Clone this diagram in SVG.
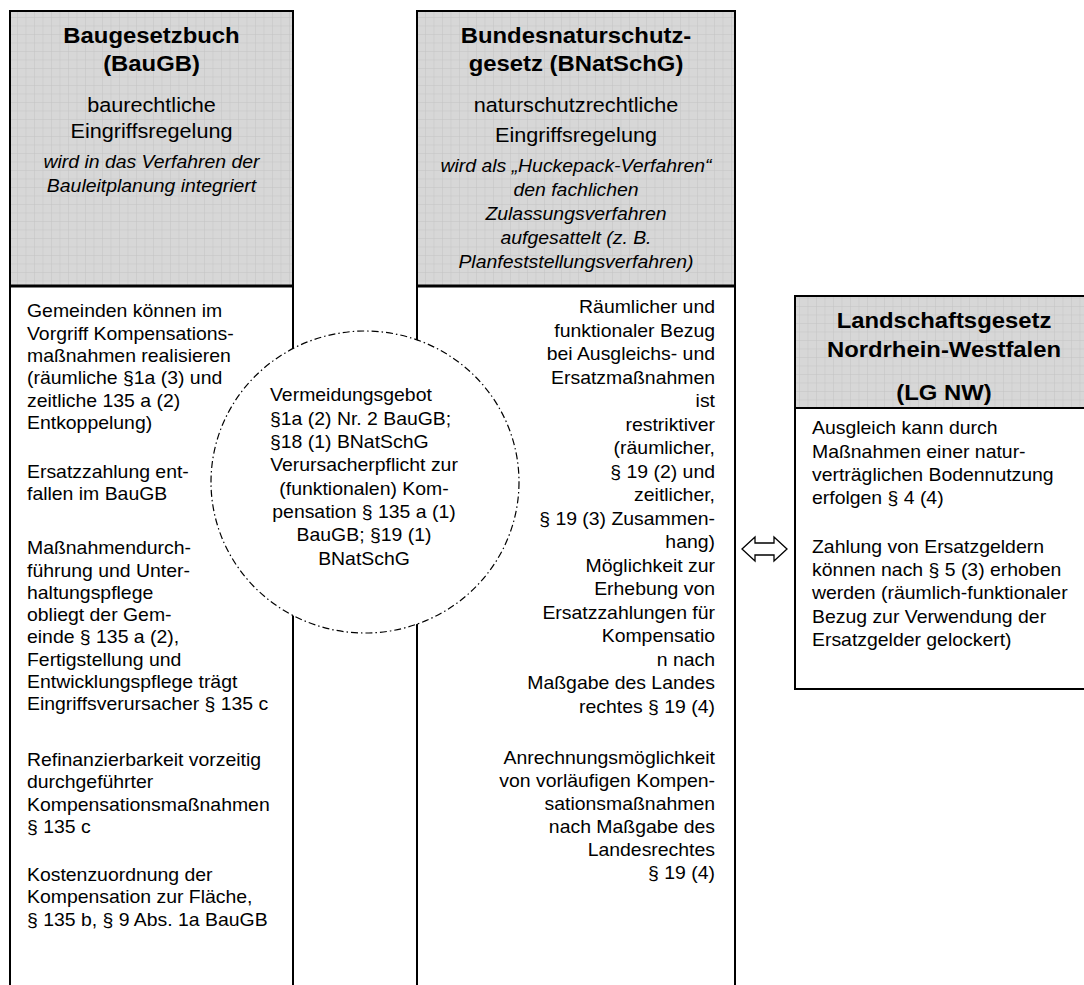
<svg xmlns="http://www.w3.org/2000/svg" width="1084" height="985" viewBox="0 0 1084 985">
<style>
text { font-family: "Liberation Sans", Arial, Helvetica, sans-serif; fill: #000; }
.title { font-size: 21.5px; font-weight: bold; text-anchor: middle; }
.sub { font-size: 19.5px; text-anchor: middle; }
.it { font-size: 17.5px; font-style: italic; text-anchor: middle; }
.body { font-size: 17.5px; }
.end { text-anchor: end; }
.mid { text-anchor: middle; }
.hdr { fill: url(#grid); stroke: none; }
.edge { fill: none; stroke: #000; stroke-width: 2; }
.sep { fill: none; stroke: #000; stroke-width: 3; }
.bubble { fill: #fff; stroke: #000; stroke-width: 1.2; stroke-dasharray: 7 3 1.5 3; }
.arrow { fill: #fff; stroke: #000; stroke-width: 1.3; stroke-linejoin: miter; }
</style>
<defs>
<pattern id="grid" width="8.5" height="8.5" patternUnits="userSpaceOnUse">
<rect width="8.5" height="8.5" fill="#d7d7d7"/>
<path d="M0 0.3H8.5M0.3 0V8.5" stroke="#c3c3c3" stroke-width="0.6"/>
</pattern>
</defs>
<rect width="1084" height="985" fill="#fff"/>

<g id="baugb">
<rect class="hdr" x="10" y="11" width="283" height="275"/>
<path class="edge" d="M10 985V11H293V985"/>
<path class="sep" d="M10 286H293"/>
<g transform="translate(151.5 0) scale(1.11 1)">
<text class="title" x="0" y="43.3">Baugesetzbuch</text>
<text class="title" x="0" y="71">(BauGB)</text>
<text class="sub" x="0" y="111.7">baurechtliche</text>
<text class="sub" x="0" y="138.3">Eingriffsregelung</text>
<text class="it" x="0" y="168.3">wird in das Verfahren der</text>
<text class="it" x="0" y="191.7">Bauleitplanung integriert</text>
</g>
</g>

<g id="bnatschg">
<rect class="hdr" x="417" y="11" width="318" height="275"/>
<path class="edge" d="M417 985V11H735V985"/>
<path class="sep" d="M417 286H735"/>
<g transform="translate(576 0) scale(1.11 1)">
<text class="title" x="0" y="43.3">Bundesnaturschutz-</text>
<text class="title" x="0" y="70.7">gesetz (BNatSchG)</text>
<text class="sub" x="0" y="111.7">naturschutzrechtliche</text>
<text class="sub" x="0" y="141.7">Eingriffsregelung</text>
<text class="it" x="0" y="172">wird als „Huckepack-Verfahren“</text>
<text class="it" x="0" y="196">den fachlichen</text>
<text class="it" x="0" y="220">Zulassungsverfahren</text>
<text class="it" x="0" y="244">aufgesattelt (z. B.</text>
<text class="it" x="0" y="268">Planfeststellungsverfahren)</text>
</g>
</g>

<g id="lgnw">
<rect class="hdr" x="795" y="296" width="300" height="112"/>
<rect class="edge" x="795" y="296" width="300" height="393"/>
<path class="edge" d="M795 408H1095"/>
<g transform="translate(944 0) scale(1.11 1)">
<text class="title" x="0" y="328">Landschaftsgesetz</text>
<text class="title" x="0" y="357">Nordrhein-Westfalen</text>
<text class="title" x="0" y="400.5">(LG NW)</text>
</g>
<g transform="translate(812 0) scale(1.11 1)">
<text class="body" x="0" y="434.3">Ausgleich kann durch</text>
<text class="body" x="0" y="457.6">Maßnahmen einer natur-</text>
<text class="body" x="0" y="480.9">verträglichen Bodennutzung</text>
<text class="body" x="0" y="504.2">erfolgen § 4 (4)</text>
<text class="body" x="0" y="552.7">Zahlung von Ersatzgeldern</text>
<text class="body" x="0" y="576">können nach § 5 (3) erhoben</text>
<text class="body" x="0" y="599.3">werden (räumlich-funktionaler</text>
<text class="body" x="0" y="622.6">Bezug zur Verwendung der</text>
<text class="body" x="0" y="645.9">Ersatzgelder gelockert)</text>
</g>
</g>

<g id="vermeidung">
<ellipse class="bubble" cx="365" cy="482" rx="154" ry="151"/>
<g transform="translate(270 0) scale(1.11 1)">
<text class="body" x="0" y="401.5">Vermeidungsgebot</text>
<text class="body" x="0" y="424.8">§1a (2) Nr. 2 BauGB;</text>
<text class="body" x="0" y="448.1">§18 (1) BNatSchG</text>
</g>
<g transform="translate(364 0) scale(1.11 1)">
<text class="body mid" x="0" y="471.4">Verursacherpflicht zur</text>
<text class="body mid" x="0" y="494.7">(funktionalen) Kom-</text>
<text class="body mid" x="0" y="518">pensation § 135 a (1)</text>
<text class="body mid" x="0" y="541.3">BauGB; §19 (1)</text>
<text class="body mid" x="0" y="564.6">BNatSchG</text>
</g>
</g>

<g id="baugb-text" transform="translate(27 0) scale(1.11 1)">
<text class="body" x="0" y="317.5">Gemeinden können im</text>
<text class="body" x="0" y="339.8">Vorgriff Kompensations-</text>
<text class="body" x="0" y="362.1">maßnahmen realisieren</text>
<text class="body" x="0" y="384.4">(räumliche §1a (3) und</text>
<text class="body" x="0" y="406.7">zeitliche 135 a (2)</text>
<text class="body" x="0" y="429">Entkoppelung)</text>
<text class="body" x="0" y="477.7">Ersatzzahlung ent-</text>
<text class="body" x="0" y="500">fallen im BauGB</text>
<text class="body" x="0" y="554.3">Maßnahmendurch-</text>
<text class="body" x="0" y="576.6">führung und Unter-</text>
<text class="body" x="0" y="598.9">haltungspflege</text>
<text class="body" x="0" y="621.2">obliegt der Gem-</text>
<text class="body" x="0" y="643.5">einde § 135 a (2),</text>
<text class="body" x="0" y="665.8">Fertigstellung und</text>
<text class="body" x="0" y="688.1">Entwicklungspflege trägt</text>
<text class="body" x="0" y="710.4">Eingriffsverursacher § 135 c</text>
<text class="body" x="0" y="766">Refinanzierbarkeit vorzeitig</text>
<text class="body" x="0" y="788.3">durchgeführter</text>
<text class="body" x="0" y="810.6">Kompensationsmaßnahmen</text>
<text class="body" x="0" y="832.9">§ 135 c</text>
<text class="body" x="0" y="881">Kostenzuordnung der</text>
<text class="body" x="0" y="903.3">Kompensation zur Fläche,</text>
<text class="body" x="0" y="925.6">§ 135 b, § 9 Abs. 1a BauGB</text>
</g>

<g id="bnatschg-text" transform="translate(715 0) scale(1.11 1)">
<text class="body end" x="0" y="313.5">Räumlicher und</text>
<text class="body end" x="0" y="337">funktionaler Bezug</text>
<text class="body end" x="0" y="360.5">bei Ausgleichs- und</text>
<text class="body end" x="0" y="384">Ersatzmaßnahmen</text>
<text class="body end" x="0" y="407.5">ist</text>
<text class="body end" x="0" y="431">restriktiver</text>
<text class="body end" x="0" y="454.5">(räumlicher,</text>
<text class="body end" x="0" y="478">§ 19 (2) und</text>
<text class="body end" x="0" y="501.5">zeitlicher,</text>
<text class="body end" x="0" y="525">§ 19 (3) Zusammen-</text>
<text class="body end" x="0" y="548.5">hang)</text>
<text class="body end" x="0" y="572">Möglichkeit zur</text>
<text class="body end" x="0" y="595.5">Erhebung von</text>
<text class="body end" x="0" y="619">Ersatzzahlungen für</text>
<text class="body end" x="0" y="642.5">Kompensatio</text>
<text class="body end" x="0" y="666">n nach</text>
<text class="body end" x="0" y="689.5">Maßgabe des Landes</text>
<text class="body end" x="0" y="713">rechtes § 19 (4)</text>
<text class="body end" x="0" y="764.3">Anrechnungsmöglichkeit</text>
<text class="body end" x="0" y="787.3">von vorläufigen Kompen-</text>
<text class="body end" x="0" y="810.3">sationsmaßnahmen</text>
<text class="body end" x="0" y="833.3">nach Maßgabe des</text>
<text class="body end" x="0" y="856.3">Landesrechtes</text>
<text class="body end" x="0" y="879.3">§ 19 (4)</text>
</g>

<g id="connectors">
<path class="arrow" d="M742 549L755 537V543H774V537L787 549L774 561V555H755V561Z"/>
</g>
</svg>
